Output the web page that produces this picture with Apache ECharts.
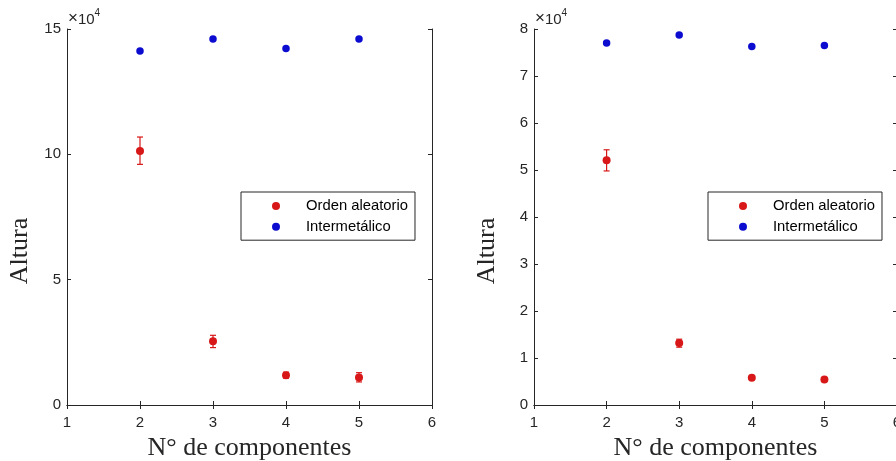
<!DOCTYPE html>
<html>
<head>
<meta charset="utf-8">
<script src="https://cdn.jsdelivr.net/npm/echarts@6/dist/echarts.min.js"></script>
<style>
html,body{margin:0;padding:0;background:#fff;}
#c{width:896px;height:461px;}
</style>
</head>
<body>
<div id="c"></div>
<script>
// Values in units of 10^4
const components = [2, 3, 4, 5];
const xTicks = [1, 2, 3, 4, 5, 6];
const leftOrden = [10.13, 2.54, 1.19, 1.10];
const leftOrdenLow = [9.60, 2.29, 1.07, 0.92];
const leftOrdenHigh = [10.69, 2.78, 1.31, 1.29];
const leftInter = [14.12, 14.60, 14.22, 14.60];
const rightOrden = [5.21, 1.32, 0.58, 0.54];
const rightOrdenLow = [4.98, 1.23, 0.55, 0.51];
const rightOrdenHigh = [5.43, 1.40, 0.61, 0.57];
const rightInter = [7.70, 7.87, 7.63, 7.65];
const leftYTicks = [0, 5, 10, 15];
const rightYTicks = [0, 1, 2, 3, 4, 5, 6, 7, 8];

const RED = '#d81818';
const BLUE = '#0c0cd0';
const AX = '#262626';
const TICKFONT = 'Liberation Sans';
const SERIF = 'Liberation Serif';

const chart = echarts.init(document.getElementById('c'), null, {renderer: 'canvas'});

function pts(xs, ys) { return xs.map((x, i) => [x, ys[i]]); }
function errs(xs, lo, hi) { return xs.map((x, i) => [x, lo[i], hi[i]]); }

function errorRender(params, api) {
  const x = api.value(0), lo = api.value(1), hi = api.value(2);
  const a = api.coord([x, hi]), b = api.coord([x, lo]);
  const hw = 3;
  const st = {stroke: RED, lineWidth: 1.2};
  return {type: 'group', children: [
    {type: 'line', shape: {x1: a[0], y1: a[1], x2: b[0], y2: b[1]}, style: st},
    {type: 'line', shape: {x1: a[0]-hw, y1: a[1], x2: a[0]+hw, y2: a[1]}, style: st},
    {type: 'line', shape: {x1: b[0]-hw, y1: b[1], x2: b[0]+hw, y2: b[1]}, style: st}
  ]};
}

function xAxisPair(grid) {
  const base = {
    type: 'value', gridIndex: grid, min: xTicks[0], max: xTicks[xTicks.length-1], interval: 1,
    axisLine: {show: true, lineStyle: {color: AX, width: 1}},
    axisTick: {show: true, inside: true, length: 4, lineStyle: {color: AX}},
    splitLine: {show: false}
  };
  return [
    Object.assign({}, base, {
      position: 'bottom',
      axisLabel: {show: true, color: AX, fontFamily: TICKFONT, fontSize: 15, margin: 10},
      name: 'N\u00b0 de componentes', nameLocation: 'middle', nameGap: 28,
      nameTextStyle: {fontFamily: SERIF, fontSize: 26, color: AX}
    }),
    Object.assign({}, base, {position: 'top', axisLabel: {show: false}})
  ];
}
function yAxisPair(grid, ticks) {
  const base = {
    type: 'value', gridIndex: grid, min: ticks[0], max: ticks[ticks.length-1], interval: ticks[1]-ticks[0],
    axisLine: {show: true, lineStyle: {color: AX, width: 1}},
    axisTick: {show: true, inside: true, length: 4, lineStyle: {color: AX}},
    splitLine: {show: false}
  };
  return [
    Object.assign({}, base, {
      position: 'left',
      axisLabel: {show: true, color: AX, fontFamily: TICKFONT, fontSize: 15, margin: 6},
      name: 'Altura', nameLocation: 'middle', nameGap: 34,
      nameTextStyle: {fontFamily: SERIF, fontSize: 26, color: AX, padding: [0, 68, 0, 0]}
    }),
    Object.assign({}, base, {position: 'right', axisLabel: {show: false}})
  ];
}

const legendBase = {
  orient: 'vertical', top: 192, icon: 'circle', itemWidth: 8, itemHeight: 8, itemGap: 5.7,
  padding: [6.5, 7, 6, 31],
  borderColor: AX, borderWidth: 1, backgroundColor: '#fff',
  textStyle: {fontFamily: TICKFONT, fontSize: 14.8, color: '#000', padding: [0, 0, 0, 21]},
  selectedMode: false,
  data: ['Orden aleatorio', 'Intermet\u00e1lico']
};

const lx = xAxisPair(0), rx = xAxisPair(1);
const ly = yAxisPair(0, leftYTicks), ry = yAxisPair(1, rightYTicks);

function expLabel(left) {
  return {type: 'text', left: left, top: 8, style: {text: '{a|\u00d7}{c|10}{b|4}', rich: {
    a: {fontFamily: TICKFONT, fontSize: 17, fill: AX, verticalAlign: 'bottom'},
    c: {fontFamily: TICKFONT, fontSize: 15, fill: AX, verticalAlign: 'bottom'},
    b: {fontFamily: TICKFONT, fontSize: 10, fill: AX, verticalAlign: 'top', padding: [0, 0, 9, 0]}
  }}};
}

chart.setOption({
  animation: false,
  backgroundColor: '#fff',
  grid: [
    {left: 67, top: 29, width: 365, height: 376, show: false, containLabel: false, outerBoundsMode: 'none'},
    {left: 534, top: 29, width: 363, height: 376, show: false, containLabel: false, outerBoundsMode: 'none'}
  ],
  xAxis: [lx[0], lx[1], rx[0], rx[1]],
  yAxis: [ly[0], ly[1], ry[0], ry[1]],
  legend: [
    Object.assign({}, legendBase, {left: 241}),
    Object.assign({}, legendBase, {left: 708})
  ],
  graphic: [expLabel(68), expLabel(535)],
  series: [
    {type: 'custom', name: 'errL', xAxisIndex: 0, yAxisIndex: 0, renderItem: errorRender,
     encode: {x: 0, y: [1, 2]}, data: errs(components, leftOrdenLow, leftOrdenHigh), z: 2},
    {type: 'scatter', name: 'Orden aleatorio', xAxisIndex: 0, yAxisIndex: 0, symbolSize: 8,
     itemStyle: {color: RED, opacity: 1}, data: pts(components, leftOrden), z: 3},
    {type: 'scatter', name: 'Intermet\u00e1lico', xAxisIndex: 0, yAxisIndex: 0, symbolSize: 7.5,
     itemStyle: {color: BLUE, opacity: 1}, data: pts(components, leftInter), z: 3},
    {type: 'custom', name: 'errR', xAxisIndex: 2, yAxisIndex: 2, renderItem: errorRender,
     encode: {x: 0, y: [1, 2]}, data: errs(components, rightOrdenLow, rightOrdenHigh), z: 2},
    {type: 'scatter', name: 'Orden aleatorio', xAxisIndex: 2, yAxisIndex: 2, symbolSize: 8,
     itemStyle: {color: RED, opacity: 1}, data: pts(components, rightOrden), z: 3},
    {type: 'scatter', name: 'Intermet\u00e1lico', xAxisIndex: 2, yAxisIndex: 2, symbolSize: 7.5,
     itemStyle: {color: BLUE, opacity: 1}, data: pts(components, rightInter), z: 3}
  ]
});
</script>
</body>
</html>
